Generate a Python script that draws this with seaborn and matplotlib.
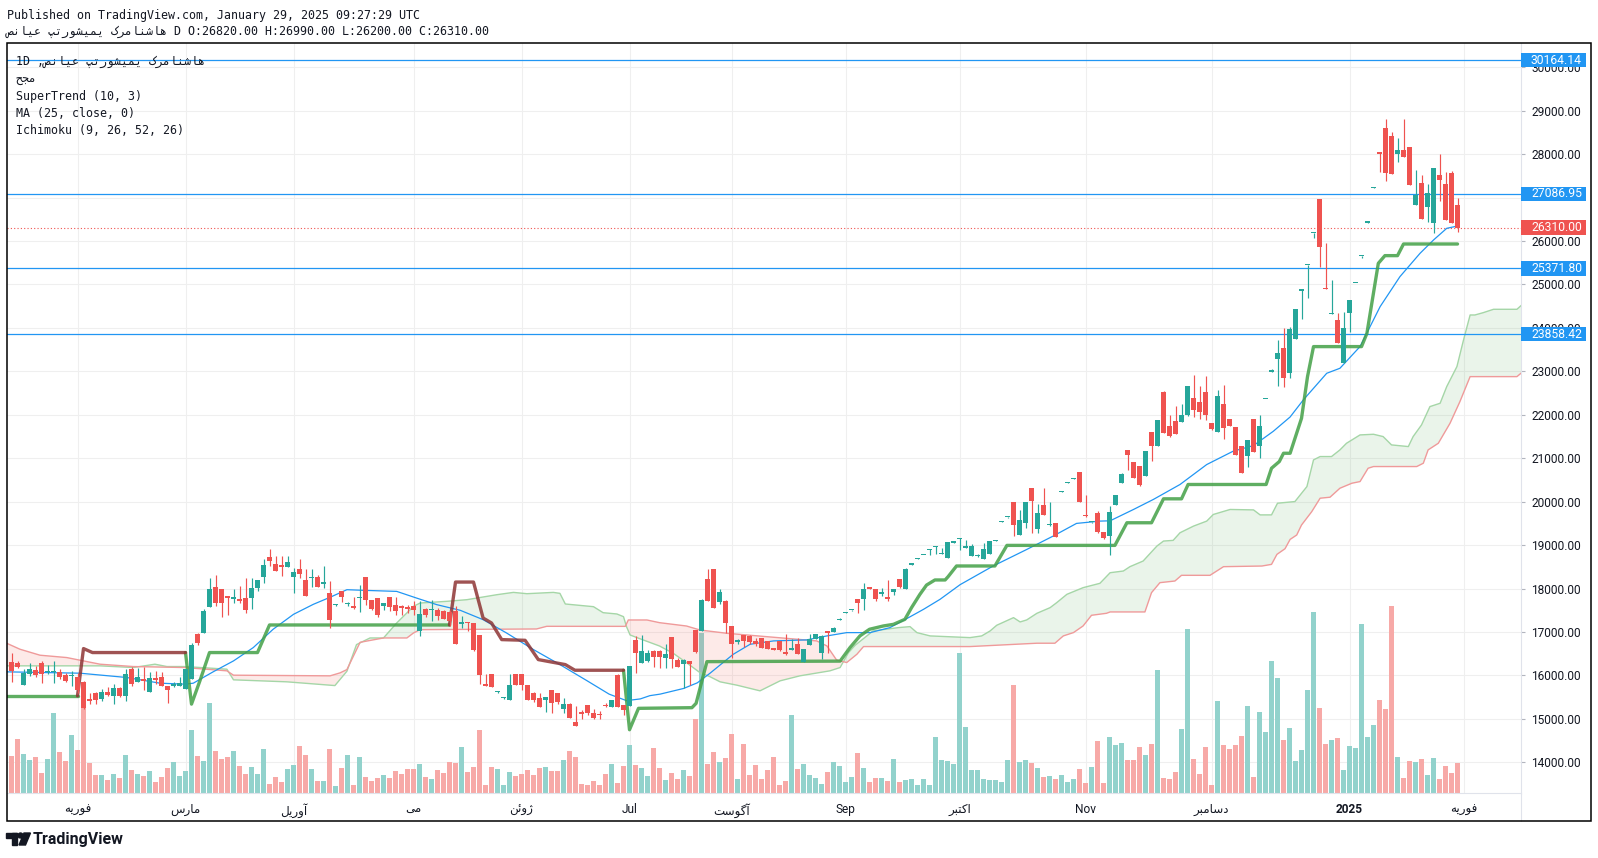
import numpy as np
import pandas as pd
import matplotlib
matplotlib.use("Agg")
import matplotlib.pyplot as plt
import matplotlib.transforms as mtransforms
from matplotlib.patches import Rectangle, Polygon, Ellipse
from matplotlib.lines import Line2D
import seaborn as sns

# ----------------------------------------------------------------- data
symbol_name = "هاشنامرک یمیشورتپ عیانص"
volume_title = "مجح"
interval = "1D"
published_text = "Published on TradingView.com, January 29, 2025 09:27:29 UTC"
indicator_titles = ["SuperTrend (10, 3)", "MA (25, close, 0)", "Ichimoku (9, 26, 52, 26)"]

opens = [16320,16297,15784,16029,16121,16297,16075,16083,16083,16014,
         15985,15953,15838,15455,15585,15455,15623,15532,15700,15532,
         16144,15853,15914,15608,15937,15953,15761,15754,15761,15685,
         15914,16948,16971,17576,18043,17982,17829,17767,17752,17790,
         17790,18020,18273,18732,18556,18533,18502,18273,18457,18188,
         18234,18273,18115,17897,17615,17951,17640,17606,17790,18265,
         17744,17782,17591,17805,17629,17591,17575,17606,17016,17529,
         17499,17514,17476,17453,17476,17185,17230,17207,16939,15790,
         16043,15615,15475,15430,16043,16043,15775,15599,15484,15430,
         15660,15599,15220,15343,14925,15155,15320,15143,15124,15331,
         15281,16010,15320,15297,16816,16294,16330,16563,16563,16410,
         16878,16356,16264,16333,17046,17031,18220,18455,17690,17714,
         17139,16780,16940,16910,16795,16871,16795,16642,16795,16542,
         16588,16718,16312,16695,16848,16527,17024,17001,17285,17440,
         17500,17767,17767,18043,17997,17867,17813,17920,18211,18000,
         18553,18690,18768,18895,18960,18805,18696,19060,19150,18942,
         18758,18748,18673,18788,19095,19535,19640,19997,19231,19515,
         20304,19362,19920,19470,19515,20220,20430,20520,20687,19683,
         19525,19729,19308,19208,19921,20419,21200,20916,20832,20587,
         21606,21292,22517,21751,21851,21836,22004,22387,22295,22525,
         21813,21598,22257,21912,21721,21280,21050,21905,21273,22360,
         22994,23295,23533,22971,23738,24860,25440,26180,26960,24912,
         24327,24184,23186,24337,25035,25650,26425,27230,28041,28594,
         28417,28003,28095,28156,26829,27328,26791,26423,27520,27313,
         27573,26820]
highs = [16512,16335,16144,16297,16221,16335,16236,16335,16144,16052,
         16106,16050,15876,15585,15608,15684,15723,15799,15723,16144,
         16198,16182,16205,16068,16106,16068,15761,15838,15953,16144,
         16756,16986,17522,18250,18311,17982,17829,18000,18059,18250,
         18250,18188,18671,18916,18748,18740,18748,18480,18686,18441,
         18441,18311,18510,18165,17650,17951,17700,17805,18088,18265,
         17744,17782,17667,17805,17805,17629,17629,17705,17721,17552,
         17744,17552,17499,17514,17591,17361,17230,17207,16939,16043,
         16043,15640,15500,16043,16043,16043,15775,15622,15599,15507,
         15660,15599,15473,15369,15292,15216,15331,15220,15185,15369,
         15446,16040,15331,16227,16900,16931,16590,16590,16596,16724,
         16894,16412,16374,16335,17047,17752,18457,18457,17997,17737,
         17139,16833,16940,16925,16871,16871,16795,16642,16795,16963,
         16833,16871,16619,16948,16948,16925,17024,17124,17320,17460,
         17515,17767,18135,18043,17997,18020,18196,17997,18211,18480,
         18565,18705,18780,18905,18970,18927,19065,19070,19160,19118,
         19017,18790,19057,19085,19110,19550,19655,19997,19806,19997,
         20304,19951,20304,19997,19515,20235,20445,20535,20687,20150,
         19540,19783,19308,19898,20143,20664,21200,20916,20832,21177,
         21606,21889,22540,22004,22211,22249,22671,22923,22671,22885,
         21813,22579,22694,21912,21721,21280,21420,21905,22000,22375,
         23048,23725,23991,24030,24429,24874,25449,26195,26960,25947,
         25096,24337,24375,24644,25045,25664,26435,27240,28041,28800,
         28517,28363,28800,28156,27635,27520,27313,27673,28003,27596,
         27620,26990]
lows = [15838,16182,15784,15991,15953,15822,16029,15822,15914,15838,
        15746,15600,15225,15340,15340,15415,15532,15340,15500,15415,
        15761,15853,15662,15608,15800,15761,15363,15723,15761,15685,
        15914,16695,16971,17576,17599,17354,17392,17675,17675,17446,
        17522,17943,18135,18518,18403,18288,18502,17905,18250,17829,
        18043,18043,18012,17093,17600,17683,17600,17529,17453,17629,
        17514,17346,17499,17476,17399,17399,17437,17399,16916,17346,
        17246,17284,17300,17131,16733,17093,17016,16556,15813,15768,
        15729,15600,15460,15430,15775,15675,15430,15384,15277,15155,
        15139,15354,15143,15028,14833,15002,15101,14990,15002,15277,
        15281,15281,15090,15297,16049,16294,16300,16205,16180,16180,
        16180,16202,15703,15780,16509,17024,17714,17545,17637,16986,
        16412,16718,16665,16718,16680,16642,16603,16588,16565,16465,
        16588,16488,16312,16695,16833,16374,16527,17001,17280,17435,
        17495,17446,17507,17980,17714,17829,17714,17844,18020,18000,
        18550,18688,18765,18773,18788,18805,18696,19058,18888,18942,
        18758,18720,18673,18788,19090,19530,19635,19220,19231,19385,
        19285,19285,19691,19440,19193,20215,20425,20515,19997,19650,
        19520,19285,19132,18772,19921,20419,20740,20534,20357,20587,
        20932,21292,21583,21491,21568,21836,21980,21951,21912,21889,
        21659,21598,21445,21736,21070,20660,20810,21135,21003,22355,
        22990,22652,22650,22841,23738,24199,24682,26060,25410,24889,
        24320,23646,23186,23915,25030,25602,26420,27225,27596,27389,
        27543,27826,27926,27290,26829,26507,26446,26177,26929,26484,
        26423,26200]
closes = [16106,16205,16052,16159,16014,16029,16090,16092,15953,15861,
          15999,15669,15248,15415,15440,15608,15555,15700,15516,16029,
          15800,15953,15876,15937,15899,15761,15669,15800,15823,16144,
          16695,16741,17484,17982,17660,17660,17790,17797,17714,17507,
          18020,18188,18533,18633,18403,18502,18617,18388,18326,17829,
          18265,18043,18135,17269,17628,17797,17652,17552,17812,17744,
          17529,17399,17667,17575,17476,17552,17529,17499,17414,17399,
          17522,17361,17300,17246,16733,17223,17207,16579,16020,15768,
          15729,15628,15488,15790,15775,15775,15446,15446,15277,15507,
          15369,15384,15343,15028,14833,15124,15128,15013,15095,15300,
          15440,15281,15210,16218,16509,16563,16509,16432,16432,16494,
          16371,16202,16356,16264,16542,17745,17714,17548,17920,17201,
          16718,16795,16795,16772,16718,16642,16603,16588,16588,16488,
          16642,16488,16619,16848,16948,16910,16970,17093,17300,17455,
          17510,17660,17997,17997,17752,17920,17752,17997,18043,18440,
          18563,18700,18778,18905,18968,18815,19065,19068,19157,18990,
          18985,18755,18911,19085,19105,19545,19650,19455,19568,19997,
          20013,19729,19691,19485,19193,20230,20440,20530,19997,19660,
          19535,19300,19155,19767,20143,20648,21085,20534,20380,21177,
          21292,21889,21583,21522,21568,22004,22671,22104,22065,21989,
          21675,22441,21698,21736,21070,20660,21420,21135,21740,22370,
          23040,23418,22844,23968,24429,24874,25449,26195,25855,24889,
          24337,23646,23991,24644,25042,25664,26430,27236,27995,27573,
          27543,28095,27941,27290,27060,26507,27098,27673,27405,26484,
          26423,26310]
volumes = [37,54,39,33,36,20,34,80,41,32,
           58,43,110,30,18,18,13,19,15,38,
           23,19,17,22,11,16,25,31,17,22,
           63,37,32,90,42,34,36,42,27,19,
           26,19,44,9,16,11,24,28,47,38,
           24,12,12,44,7,25,38,8,36,16,
           12,15,18,15,22,19,24,24,29,16,
           14,23,20,31,30,46,21,26,63,8,
           26,24,8,21,17,19,23,18,25,26,
           22,22,33,42,36,9,8,12,8,19,
           29,10,27,48,28,25,17,45,25,13,
           20,14,23,17,74,160,29,41,31,35,
           59,14,49,18,28,14,23,36,8,12,
           78,24,29,18,15,9,21,31,27,11,
           16,40,25,11,15,15,12,34,11,13,
           14,8,14,8,56,33,32,29,140,66,
           23,23,14,13,13,11,33,108,31,33,
           30,25,16,17,14,18,11,14,24,10,
           26,52,10,56,48,50,33,33,46,38,
           49,123,15,14,21,64,164,34,19,46,
           8,92,48,44,48,57,87,16,81,61,
           132,115,53,65,32,43,103,181,85,49,
           53,55,23,47,45,169,56,68,93,84,
           187,36,15,32,31,34,18,35,14,27,
           20,30]

# moving average (25): bar index / price
ma_x = [-0.8, 11.4, 19.2, 24.75, 29, 30.3, 33.6, 37, 40.3, 43.6,
        47, 50.3, 53.1, 55.9, 58.6, 64.2, 67.5, 70.9, 74.8, 78.6,
        82.5, 87, 91.4, 95.9, 99.6, 102.5, 104.8, 106.4, 108.1, 112,
        114.3, 116.4, 118.1, 120.3, 123.1, 127, 132.5, 135.9, 139.2, 143.1,
        146.4, 149.2, 152, 154.75, 158.1, 163.6, 169.2, 173.6, 177.5, 181.4,
        183.1, 187, 190.3, 194.75, 199.2, 203.6, 207, 210.3, 213.1, 215.3,
        219.2, 221.4, 224.75, 228.1, 231.4, 234.75, 237, 239.2, 241]
ma_y = [16083, 16052, 15953, 15822, 15799, 15822, 16083, 16335, 16642, 17063,
        17407, 17637, 17800, 17974, 17960, 17935, 17782, 17629, 17499, 17284,
        16978, 16595, 16250, 15880, 15570, 15420, 15460, 15535, 15570, 15700,
        15830, 16049, 16241, 16488, 16718, 16795, 16818, 16910, 16986, 16986,
        17101, 17308, 17522, 17752, 18090, 18519, 18900, 19208, 19500, 19553,
        19560, 19821, 20051, 20396, 20855, 21162, 21292, 21621, 21950, 22343,
        22956, 23071, 23570, 24490, 25180, 25717, 26024, 26293, 26346]

# SuperTrend (10, 3) vertices
st_up1_x = [-0.8, 11]
st_up1_y = [15531, 15531]
st_dn1_x = [11, 12, 13.5, 29]
st_dn1_y = [15531, 16619, 16527, 16527]
st_up2_x = [29, 30, 31.4, 33, 41, 43, 73]
st_up2_y = [16527, 15340, 15876, 16527, 16527, 17162, 17162]
st_dn2_x = [73, 74, 77, 78.6, 80, 81.7, 85.6, 87.8, 92.3, 93.9, 102]
st_dn2_y = [17162, 18150, 18150, 17322, 17208, 16825, 16809, 16365, 16250, 16120, 16120]
st_up3_x = [102, 103, 104.5, 113.4, 114.1, 115.9, 138.1, 139.75, 141.4, 143,
            145.3, 147, 148.9, 150, 151.4, 152.5, 153.9, 155.6, 156.1, 157.5,
            163.9, 165.9, 183.9, 185.9, 190, 192, 195, 196.1, 209.1, 210,
            211.3, 212, 213.1, 215, 216, 217, 225, 225.9, 227.8, 228.9,
            231, 232, 241]
st_up3_y = [16120, 14750, 15243, 15258, 15358, 16318, 16330, 16642, 16910, 17063,
            17139, 17177, 17292, 17560, 17867, 18080, 18198, 18198, 18274, 18520,
            18520, 18994, 18994, 19515, 19515, 20066, 20066, 20396, 20396, 20770,
            20924, 21115, 21115, 21920, 22879, 23570, 23570, 23876, 25487, 25664,
            25664, 25932, 25932]

# Ichimoku cloud (leading spans, already displaced 26 bars)
span_a_x = [-0.8, 14.75, 20.3, 23.9, 25.9, 28.9, 35.9, 37, 45.9, 53.9,
            55.9, 57.5, 59.75, 62, 64.2, 67, 68.1, 72.5, 75.9, 80.9,
            83.65, 85.9, 90.3, 91.4, 92.3, 97, 98.6, 100.9, 102, 102.5,
            103.1, 105.3, 108, 110.3, 112.5, 114.75, 116.4, 118.1, 120.9, 124.75,
            128.1, 131.4, 136.4, 138.1, 139.5, 140.6, 143.6, 147.8, 149.75, 150.9,
            153.1, 159.75, 161.7, 163.1, 164.2, 167, 168.1, 169.2, 170.9, 173.1,
            174.2, 175.9, 178.6, 181.4, 183.1, 185.3, 186.4, 188.6, 190.9, 192,
            193.6, 194.75, 197, 199.2, 200.3, 203.1, 207, 208.1, 210, 211,
            213.9, 215.9, 217, 218.1, 220, 221.4, 222.5, 224.75, 227, 228.6,
            230, 232.8, 233.6, 235, 236.4, 238.1, 239.2, 240.9, 242, 243.1,
            243.9, 245.3, 247, 250.9, 251.7]
span_a_y = [16221, 16221, 16182, 16259, 16205, 16205, 16144, 15899, 15853, 15767,
            16097, 16710, 16863, 16863, 17208, 17591, 17667, 17706, 17744, 17859,
            17912, 17882, 17912, 17890, 17645, 17583, 17445, 17415, 17353, 17123,
            16931, 16816, 16678, 16509, 16294, 16064, 15972, 15853, 15776, 15646,
            15876, 15991, 16106, 16182, 16527, 16695, 17025, 17101, 17124, 16986,
            16910, 16871, 16910, 17025, 17155, 17331, 17232, 17278, 17431, 17561,
            17676, 17868, 18021, 18121, 18365, 18404, 18504, 18634, 18979, 19094,
            19109, 19285, 19438, 19553, 19706, 19821, 19811, 19696, 19696, 19965,
            20003, 20348, 20962, 21039, 21039, 21192, 21345, 21537, 21552, 21499,
            21307, 21269, 21499, 21767, 22189, 22266, 22649, 23110, 23723, 24298,
            24298, 24352, 24429, 24429, 24528]
span_b_x = [-0.8, 1.4, 4.75, 9.2, 14.75, 20.3, 28.9, 35.9, 37, 53.1,
            54.75, 55.9, 58.1, 62, 65.9, 67, 68.1, 87.5, 89.2, 102.3,
            102.8, 105.9, 108, 112.5, 114.75, 119.2, 134.2, 135.9, 137.5, 139.2,
            140.9, 142, 159.75, 170.9, 173.9, 175.3, 177, 178.6, 180, 182.5,
            183.1, 188.9, 190, 191.4, 193.9, 195, 199.75, 202, 208.4, 210,
            210.9, 212.25, 213.1, 214.2, 215, 216.7, 218.1, 219.75, 221.4, 223.4,
            224.75, 226.1, 227, 234.2, 235.3, 236.1, 237.8, 239.75, 241.4, 243.1,
            250.9, 251.7]
span_b_y = [16741, 16604, 16466, 16412, 16259, 16205, 16182, 16106, 16006, 15991,
            16059, 16135, 16763, 16863, 16863, 16978, 17054, 17070, 17131, 17130,
            17277, 17277, 17215, 17138, 17046, 16971, 16795, 16680, 16358, 16297,
            16488, 16665, 16665, 16742, 16742, 16910, 16987, 17140, 17385, 17431,
            17462, 17462, 17906, 18136, 18174, 18305, 18305, 18504, 18519, 18557,
            18787, 18917, 19132, 19233, 19463, 19770, 20080, 20103, 20310, 20425,
            20463, 20770, 20809, 20809, 20885, 21192, 21345, 21805, 22304, 22879,
            22879, 22971]

month_ticks = [11, 29, 47, 67, 85, 103, 120, 139, 158, 179, 200, 223, 242]
month_labels = ["فوریه", "مارس", "آوریل", "می", "ژوئن", "Jul", "آگوست",
                "Sep", "اکتبر", "Nov", "دسامبر", "2025", "فوریه"]
price_ticks = list(range(14000, 30001, 1000))
level_lines = [30164.14, 27086.95, 25371.80, 23858.42]
last_price = 26310.00

# ----------------------------------------------------------------- helpers
FORMS = {
    'ا': ('\uFE8D', '\uFE8E', None, None), 'آ': ('\uFE81', '\uFE82', None, None),
    'ب': ('\uFE8F', '\uFE90', '\uFE91', '\uFE92'), 'ت': ('\uFE95', '\uFE96', '\uFE97', '\uFE98'),
    'د': ('\uFEA9', '\uFEAA', None, None), 'ر': ('\uFEAD', '\uFEAE', None, None),
    'ژ': ('\uFB8A', '\uFB8B', None, None), 'س': ('\uFEB1', '\uFEB2', '\uFEB3', '\uFEB4'),
    'ش': ('\uFEB5', '\uFEB6', '\uFEB7', '\uFEB8'), 'ص': ('\uFEB9', '\uFEBA', '\uFEBB', '\uFEBC'),
    'ع': ('\uFEC9', '\uFECA', '\uFECB', '\uFECC'), 'ف': ('\uFED1', '\uFED2', '\uFED3', '\uFED4'),
    'ک': ('\uFB8E', '\uFB8F', '\uFB90', '\uFB91'), 'گ': ('\uFB92', '\uFB93', '\uFB94', '\uFB95'),
    'ل': ('\uFEDD', '\uFEDE', '\uFEDF', '\uFEE0'), 'م': ('\uFEE1', '\uFEE2', '\uFEE3', '\uFEE4'),
    'ن': ('\uFEE5', '\uFEE6', '\uFEE7', '\uFEE8'), 'ه': ('\uFEE9', '\uFEEA', '\uFEEB', '\uFEEC'),
    'و': ('\uFEED', '\uFEEE', None, None), 'ی': ('\uFBFC', '\uFBFD', '\uFBFE', '\uFBFF'),
    'ئ': ('\uFE89', '\uFE8A', '\uFE8B', '\uFE8C'), 'پ': ('\uFB56', '\uFB57', '\uFB58', '\uFB59'),
    'ح': ('\uFEA1', '\uFEA2', '\uFEA3', '\uFEA4'), 'ج': ('\uFE9D', '\uFE9E', '\uFE9F', '\uFEA0'),
}


def rtl(s):
    """Shape Persian text and put it in visual (left-to-right) order."""
    if not any(c in FORMS for c in s):
        return s
    out = []
    n = len(s)
    for k, c in enumerate(s):
        f = FORMS.get(c)
        if f is None:
            out.append(c)
            continue
        prev = s[k - 1] if k > 0 else None
        nxt = s[k + 1] if k < n - 1 else None
        jp = prev in FORMS and FORMS[prev][2] is not None
        jn = nxt in FORMS and f[2] is not None
        if jp and jn:
            g = f[3]
        elif jp:
            g = f[1]
        elif jn:
            g = f[2]
        else:
            g = f[0]
        out.append(g)
    return ''.join(reversed(out))


# ----------------------------------------------------------------- style
sns.set_theme(style="white")
plt.rcParams['font.family'] = ['Roboto', 'DejaVu Sans']
MONO = ['DejaVu Sans Mono', 'DejaVu Sans']
TXT = '#131722'
UP, DN = '#26A69A', '#EF5350'
GRID = '#EFEFEF'
SEP = '#E0E3EB'

df = pd.DataFrame({"open": opens, "high": highs, "low": lows, "close": closes, "volume": volumes})
df["idx"] = np.arange(len(df))
is_up = df["close"] >= df["open"]
cols = np.where(is_up, UP, DN)

W, H = 1598, 858
fig = plt.figure(figsize=(W / 100, H / 100), dpi=100)
fig.patch.set_facecolor('white')


def fx(px):
    return px / W


def fy(py):
    return 1 - py / H


AX_L, AX_R, AX_T, AX_B = 7, 1521, 43, 793
ax = fig.add_axes([fx(AX_L), fy(AX_B), fx(AX_R) - fx(AX_L), fy(AX_T) - fy(AX_B)])
ax2 = ax.twinx()
ax.set_zorder(2)
ax2.set_zorder(1)
ax.patch.set_visible(False)

xmin, xmax = -0.75, 251.58
ymin, ymax = 13294, 30559

# grid (drawn on the bottom axes so it stays under the volume bars)
for t in month_ticks:
    ax2.axvline(t, color=GRID, lw=0.8, zorder=0)
grid_tr = mtransforms.blended_transform_factory(ax2.transAxes, ax.transData)
for p in price_ticks:
    ax2.add_line(Line2D([0, 1], [p, p], transform=grid_tr, color=GRID, lw=0.8, zorder=0))

# volume
vcols = np.where(is_up, '#92D2CC', '#F7A9A7')
ax2.bar(df["idx"], df["volume"], width=0.83, color=vcols, linewidth=0, edgecolor='none', zorder=1)
ax2.set_ylim(0, df["volume"].max() / 0.2493)
ax2.set_yticks([])
for s in ax2.spines.values():
    s.set_visible(False)

# Ichimoku cloud
cx = np.array(sorted(set(span_a_x) | set(span_b_x)))
ca = np.interp(cx, span_a_x, span_a_y)
cb = np.interp(cx, span_b_x, span_b_y)
ax.fill_between(cx, ca, cb, where=ca >= cb, interpolate=True, color='#43A047', alpha=0.11, lw=0, zorder=1)
ax.fill_between(cx, ca, cb, where=ca < cb, interpolate=True, color='#F44336', alpha=0.11, lw=0, zorder=1)
sns.lineplot(x=span_a_x, y=span_a_y, ax=ax, color='#A5D6A7', lw=1.0, zorder=2)
sns.lineplot(x=span_b_x, y=span_b_y, ax=ax, color='#EF9A9A', lw=1.0, zorder=2)

# horizontal levels
for p in level_lines:
    ax.axhline(p, color='#2196F3', lw=0.9, zorder=3)
ax.axhline(last_price, color=DN, lw=0.8, ls=(0, (1, 2)), zorder=3)

# MA
sns.lineplot(x=ma_x, y=ma_y, ax=ax, color='#2196F3', lw=0.9, zorder=4)

# SuperTrend
for xs, ys in [(st_up1_x, st_up1_y), (st_up2_x, st_up2_y), (st_up3_x, st_up3_y)]:
    sns.lineplot(x=xs, y=ys, ax=ax, color='#43A047', alpha=0.85, lw=2.4, zorder=5)
for xs, ys in [(st_dn1_x, st_dn1_y), (st_dn2_x, st_dn2_y)]:
    sns.lineplot(x=xs, y=ys, ax=ax, color='#8E3535', alpha=0.85, lw=2.4, zorder=5)

# candles
body_lo = np.minimum(df["open"], df["close"])
body_h = np.maximum(np.abs(df["close"] - df["open"]), 25)
ax.vlines(df["idx"], df["low"], df["high"], colors=cols, lw=0.85, zorder=6)
ax.bar(df["idx"], body_h, bottom=body_lo, width=0.74, color=cols, linewidth=0, edgecolor='none', zorder=7)

ax.set_xlim(xmin, xmax)
ax.set_ylim(ymin, ymax)
ax.set_xlabel('')
ax.set_ylabel('')
if ax.get_legend():
    ax.get_legend().remove()

# axes decoration (a tick label lying entirely under a scale label is left blank)
ax.yaxis.tick_right()
ax.set_yticks(price_ticks)
hidden = [p for p in price_ticks if any(abs(p - v) < 100 for v in level_lines + [last_price])]
ax.set_yticklabels(['' if p in hidden else f"{p:.2f}" for p in price_ticks])
ax.tick_params(axis='y', which='both', left=False, right=True, labelleft=False, labelright=True,
               length=3, width=0.8, color='#B2B5BE', pad=4.5, labelsize=8.6, labelcolor=TXT)
ax.set_xticks(month_ticks)
ax.set_xticklabels([rtl(m) for m in month_labels])
ax.tick_params(axis='x', length=3, width=0.8, color='#B2B5BE', pad=4, labelsize=8.6, labelcolor=TXT)
for lab in ax.get_xticklabels():
    if lab.get_text() == '2025':
        lab.set_fontweight('bold')
for side in ['left', 'top']:
    ax.spines[side].set_visible(False)
for side in ['right', 'bottom']:
    ax.spines[side].set_color(SEP)
    ax.spines[side].set_linewidth(0.8)
ax.grid(False)

# price labels on the scale
lab_tr = mtransforms.blended_transform_factory(ax.transAxes, ax.transData)
ax_w_px = AX_R - AX_L
upp = (ymax - ymin) / (AX_B - AX_T)
bh = 14.5 * upp
for p, c in [(v, '#2196F3') for v in level_lines] + [(last_price, DN)]:
    ax.add_patch(Rectangle((1.0, p - bh / 2), 65 / ax_w_px, bh, transform=lab_tr, clip_on=False,
                           facecolor=c, edgecolor='none', zorder=30))
    ax.text(1.0 + 10 / ax_w_px, p, f"{p:.2f}", transform=lab_tr, ha='left', va='center',
            color='white', fontsize=8.7, zorder=31, clip_on=False)
ax.set_ylim(ymin, ymax)
ax.set_xlim(xmin, xmax)

# frame and separators
fig.add_artist(Rectangle((fx(7), fy(821)), (1591 - 7) / W, (821 - 43) / H, transform=fig.transFigure,
                         fill=False, edgecolor='#000000', lw=1.1, zorder=50))
fig.add_artist(Line2D([fx(AX_R), fx(AX_R)], [fy(AX_B), fy(821)], transform=fig.transFigure,
                      color=SEP, lw=0.8))

# header and legend texts
fig.text(fx(7), fy(15), published_text, family=MONO, fontsize=8.4, color=TXT, va='center', ha='left')
o, h, l, c = df.iloc[-1][["open", "high", "low", "close"]]
fig.text(fx(7), fy(32), f"{rtl(symbol_name)} D O:{o:.2f} H:{h:.2f} L:{l:.2f} C:{c:.2f}",
         family=MONO, fontsize=8.4, color=TXT, va='center', ha='left')
legend_lines = [f"{interval} ,{rtl(symbol_name)}", rtl(volume_title)] + indicator_titles
for k, t in enumerate(legend_lines):
    fig.text(fx(16), fy(62 + 17.2 * k), t, family=MONO, fontsize=8.4, color=TXT, va='center', ha='left', zorder=60)

# TradingView logo
fig.add_artist(Rectangle((fx(6), fy(837.5)), 11 / W, 4.5 / H, transform=fig.transFigure, color=TXT))
fig.add_artist(Rectangle((fx(11.5), fy(845)), 5.5 / W, 12 / H, transform=fig.transFigure, color=TXT))
fig.add_artist(Ellipse((fx(20.5), fy(835.5)), 5 / W, 5 / H, transform=fig.transFigure, color=TXT))
fig.add_artist(Polygon([(fx(24), fy(833)), (fx(30.5), fy(833)), (fx(25.5), fy(845)), (fx(19), fy(845))],
                       closed=True, transform=fig.transFigure, color=TXT))
fig.text(fx(33), fy(839.5), "TradingView", fontsize=11.5, fontweight='bold', color=TXT, va='center', ha='left')

fig.savefig("out.png", dpi=100)
